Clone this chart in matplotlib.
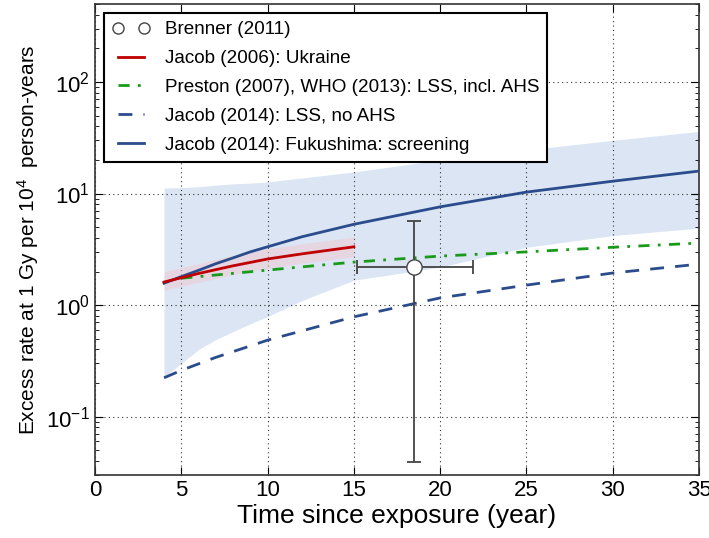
import numpy as np
import matplotlib
matplotlib.use("Agg")
import matplotlib.pyplot as plt
from matplotlib.lines import Line2D

plt.rcParams['font.family'] = ['Liberation Sans', 'DejaVu Sans']
plt.rcParams['mathtext.fontset'] = 'custom'
plt.rcParams['mathtext.rm'] = 'Liberation Sans'
plt.rcParams['mathtext.it'] = 'Liberation Sans'

# Fukushima screening (Jacob 2014) central and band
t_fuk = [4, 5, 6, 7, 8, 9, 10, 12, 15, 20, 25, 30, 35]
fuk = [1.57, 1.8, 2.05, 2.35, 2.65, 3.0, 3.33, 4.1, 5.3, 7.6, 10.3, 12.9, 15.9]
fuk_lo = [0.226, 0.30, 0.40, 0.49, 0.58, 0.68, 0.79, 1.1, 1.67, 2.19, 3.3, 4.2, 4.9]
fuk_hi = [11.2, 11.3, 11.5, 11.9, 12.2, 12.4, 12.7, 13.8, 15.6, 20.0, 24.6, 30.0, 36.0]

# Jacob 2006 Ukraine
t_ukr = [4, 6, 8, 10, 12, 15]
ukr = [1.61, 1.92, 2.25, 2.59, 2.88, 3.33]
ukr_lo = [1.36, 1.6, 1.88, 2.13, 2.38, 2.71]
ukr_hi = [1.99, 2.35, 2.8, 3.2, 3.55, 4.07]

# Preston 2007 / WHO 2013
t_pre = [5, 10, 15, 20, 25, 30, 35]
pre = [1.74, 2.06, 2.43, 2.75, 3.0, 3.3, 3.6]

# Jacob 2014 LSS no AHS
t_lss = [4, 5, 7, 10, 15, 20, 25, 30, 35]
lss = [0.223, 0.26, 0.34, 0.485, 0.785, 1.16, 1.51, 1.94, 2.33]

# Brenner 2011
br_t = [18.5]
br_v = [2.2]
br_tlo = [15.2]
br_thi = [21.9]
br_vlo = [0.039]
br_vhi = [5.7]

fig = plt.figure(figsize=(7.09, 5.38), dpi=100)
ax = fig.add_axes([95/709, 1-475/538, (699-95)/709, (475-4)/538])

blue = '#2b4c8c'
ax.fill_between(t_fuk, fuk_lo, fuk_hi, color='#dbe5f3', lw=0, zorder=1)
ax.fill_between(t_ukr, ukr_lo, ukr_hi, color='#f0c8d2', alpha=0.5, lw=0, zorder=2)

ax.errorbar(br_t, br_v,
            xerr=[[br_t[0]-br_tlo[0]], [br_thi[0]-br_t[0]]],
            yerr=[[br_v[0]-br_vlo[0]], [br_vhi[0]-br_v[0]]],
            fmt='o', color='#444444', mfc='white', mec='#444444', ms=11,
            ecolor='#444444', elinewidth=1.3, capsize=5, capthick=1.3,
            zorder=6, label='Brenner (2011)')
ax.plot(t_ukr, ukr, color='#c00000', lw=2, zorder=4, label='Jacob (2006): Ukraine')
ax.plot(t_pre, pre, color='#1a9a1a', lw=2, ls=(0, (4, 3, 1, 3)), zorder=3,
        label='Preston (2007), WHO (2013): LSS, incl. AHS')
ax.plot(t_lss, lss, color=blue, lw=2, ls=(0, (5, 4)), zorder=3,
        label='Jacob (2014): LSS, no AHS')
ax.plot(t_fuk, fuk, color=blue, lw=2, zorder=3, label='Jacob (2014): Fukushima: screening')

ax.set_yscale('log')
ax.set_xlim(0, 35)
ax.set_ylim(0.03, 500)
ax.set_xticks(range(0, 36, 5))
ax.grid(True, which='major', color='#333333', ls=(0, (1, 3)), lw=0.8)
ax.tick_params(which='both', direction='in', top=True, right=True, labelsize=16)
ax.tick_params(which='major', length=6)
ax.tick_params(which='minor', length=3)
for s in ax.spines.values():
    s.set_linewidth(1.2)
    s.set_color('#333333')

ax.set_xlabel('Time since exposure (year)', fontsize=19, labelpad=2)
ax.set_ylabel('Excess rate at 1 Gy per $10^4$  person-years', fontsize=15, labelpad=4)

handles, labels = ax.get_legend_handles_labels()
names = ['Brenner (2011)', 'Jacob (2006): Ukraine',
         'Preston (2007), WHO (2013): LSS, incl. AHS',
         'Jacob (2014): LSS, no AHS',
         'Jacob (2014): Fukushima: screening']
order = [labels.index(l) for l in names]
bh = Line2D([], [], marker='o', ls='none', mfc='white', mec='#444444', ms=8)
hs = [bh] + [handles[i] for i in order[1:]]
leg = ax.legend(hs, names, loc='upper left', fontsize=13.6,
                numpoints=2, fancybox=False, framealpha=1, edgecolor='black',
                borderaxespad=0.5, handlelength=2.0, labelspacing=0.62)
leg.get_frame().set_linewidth(1.5)

fig.savefig('out.png', dpi=100)
